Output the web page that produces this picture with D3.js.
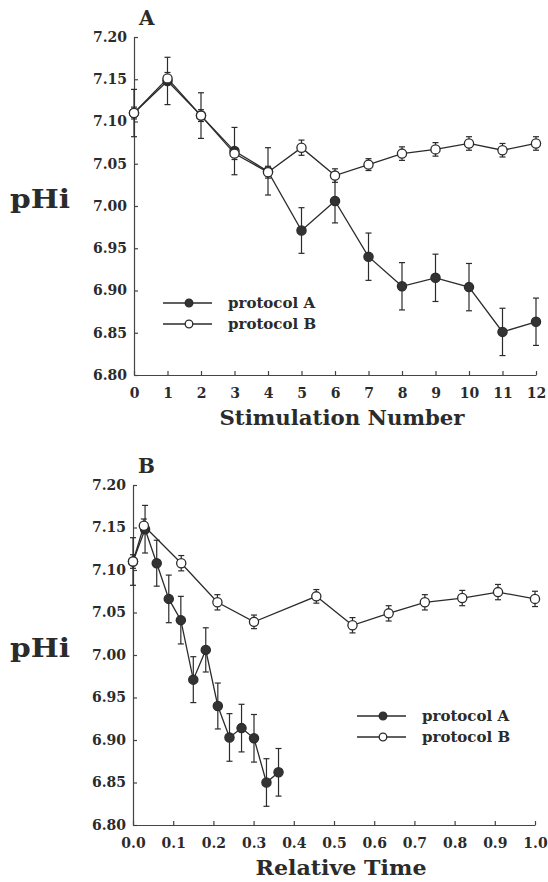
<!DOCTYPE html>
<html>
<head>
<meta charset="utf-8">
<script src="https://cdn.jsdelivr.net/npm/d3@7"></script>
<style>
  body { margin: 0; background: #fff; }
  text { font-family: "DejaVu Serif", serif; font-weight: bold; fill: #2b2b2b; }
</style>
</head>
<body>
<svg width="548" height="882"></svg>
<script>
// panel A: pHi vs stimulation number
const stimNumber = [0, 1, 2, 3, 4, 5, 6, 7, 8, 9, 10, 11, 12];
const stimPhA = [7.110, 7.148, 7.107, 7.065, 7.041, 6.971, 7.006, 6.940, 6.905, 6.915, 6.904, 6.851, 6.863];
const stimErrA = [0.028, 0.028, 0.027, 0.028, 0.028, 0.027, 0.026, 0.028, 0.028, 0.028, 0.028, 0.028, 0.028];
const stimPhB = [7.110, 7.151, 7.107, 7.062, 7.040, 7.069, 7.036, 7.049, 7.062, 7.067, 7.074, 7.066, 7.074];
const stimErrB = [0.007, 0.007, 0.007, 0.007, 0.007, 0.009, 0.008, 0.007, 0.008, 0.008, 0.008, 0.008, 0.008];
const stimTicks = [0, 1, 2, 3, 4, 5, 6, 7, 8, 9, 10, 11, 12];

// panel B: pHi vs relative time
const relTimeA = [0, 0.030, 0.059, 0.089, 0.119, 0.150, 0.181, 0.211, 0.240, 0.270, 0.301, 0.332, 0.362];
const relPhA = [7.110, 7.148, 7.108, 7.066, 7.041, 6.971, 7.006, 6.940, 6.903, 6.914, 6.902, 6.850, 6.862];
const relErrA = [0.028, 0.028, 0.027, 0.028, 0.028, 0.027, 0.026, 0.027, 0.028, 0.028, 0.028, 0.028, 0.028];
const relTimeB = [0, 0.027, 0.120, 0.210, 0.301, 0.456, 0.546, 0.636, 0.726, 0.819, 0.908, 1.0];
const relPhB = [7.110, 7.152, 7.108, 7.062, 7.039, 7.069, 7.035, 7.049, 7.062, 7.067, 7.074, 7.066];
const relErrB = [0.008, 0.008, 0.009, 0.009, 0.008, 0.008, 0.009, 0.009, 0.009, 0.009, 0.009, 0.009];
const relTicks = [0, 0.1, 0.2, 0.3, 0.4, 0.5, 0.6, 0.7, 0.8, 0.9, 1.0];

const phTicks = [6.80, 6.85, 6.90, 6.95, 7.00, 7.05, 7.10, 7.15, 7.20];
const seriesNames = ['protocol A', 'protocol B'];

const svg = d3.select('svg');
const ink = '#2b2b2b';

const zip = (xs, ys, es) => xs.map((x, i) => ({x: x, y: ys[i], e: es[i]}));

const drawPanel = p => {
  const x = d3.scaleLinear().domain(p.xDomain).range([p.left, p.right]);
  const y = d3.scaleLinear().domain([6.80, 7.20]).range([p.bottom, p.top]);
  const g = svg.append('g');

  const yAxis = g.append('g')
    .attr('transform', `translate(${p.left},0)`)
    .call(d3.axisLeft(y).tickValues(phTicks).tickFormat(d3.format('.2f'))
      .tickSize(-4).tickSizeOuter(0).tickPadding(7));
  const xAxis = g.append('g')
    .attr('transform', `translate(0,${p.bottom})`)
    .call(d3.axisBottom(x).tickValues(p.xTicks).tickFormat(p.xFormat)
      .tickSize(-4).tickSizeOuter(0).tickPadding(13));
  [yAxis, xAxis].forEach(a => {
    a.selectAll('path, line').attr('stroke', '#444').attr('stroke-width', 1.2);
    a.selectAll('text').attr('font-size', 14).attr('fill', ink);
  });

  const line = d3.line().x(d => x(d.x)).y(d => y(d.y));

  p.series.forEach((s, k) => {
    const pts = zip(s.xs, s.ys, s.es);
    const sg = g.append('g');
    sg.append('path').datum(pts)
      .attr('d', line).attr('fill', 'none')
      .attr('stroke', ink).attr('stroke-width', 1.3);
    const eb = sg.selectAll('g.eb').data(pts).enter().append('g');
    eb.append('line')
      .attr('x1', d => x(d.x)).attr('x2', d => x(d.x))
      .attr('y1', d => y(d.y + d.e)).attr('y2', d => y(d.y - d.e));
    eb.append('line')
      .attr('x1', d => x(d.x) - 3).attr('x2', d => x(d.x) + 3)
      .attr('y1', d => y(d.y + d.e)).attr('y2', d => y(d.y + d.e));
    eb.append('line')
      .attr('x1', d => x(d.x) - 3).attr('x2', d => x(d.x) + 3)
      .attr('y1', d => y(d.y - d.e)).attr('y2', d => y(d.y - d.e));
    eb.selectAll('line').attr('stroke', ink).attr('stroke-width', 1.2);
    sg.selectAll('circle').data(pts).enter().append('circle')
      .attr('cx', d => x(d.x)).attr('cy', d => y(d.y)).attr('r', 4.6)
      .attr('fill', k === 0 ? '#333' : '#fff')
      .attr('stroke', ink).attr('stroke-width', 1.3);
  });

  // legend
  seriesNames.forEach((name, k) => {
    const ly = p.legY + k * 21;
    g.append('line')
      .attr('x1', p.legX).attr('x2', p.legX + 49)
      .attr('y1', ly).attr('y2', ly)
      .attr('stroke', ink).attr('stroke-width', 1.3);
    g.append('circle')
      .attr('cx', p.legX + 26).attr('cy', ly).attr('r', 3.8)
      .attr('fill', k === 0 ? '#333' : '#fff')
      .attr('stroke', ink).attr('stroke-width', 1.3);
    g.append('text')
      .attr('x', p.legX + 65).attr('y', ly + 5)
      .attr('font-size', 15)
      .text(name);
  });

  g.append('text')
    .attr('x', p.left + 5).attr('y', p.top - 12)
    .attr('font-size', 20)
    .text(p.letter);
  g.append('text')
    .attr('x', 10).attr('y', y(7.0) + 2)
    .attr('font-size', 26)
    .attr('textLength', 60).attr('lengthAdjust', 'spacingAndGlyphs')
    .text('pHi');
  g.append('text')
    .attr('x', p.titleX).attr('y', p.bottom + 50)
    .attr('text-anchor', 'middle')
    .attr('font-size', 20)
    .attr('textLength', p.titleLen).attr('lengthAdjust', 'spacingAndGlyphs')
    .text(p.title);
};

drawPanel({
  letter: 'A', left: 134, right: 536, top: 37, bottom: 375,
  xDomain: [0, 12], xTicks: stimTicks, xFormat: d3.format('d'),
  series: [
    {xs: stimNumber, ys: stimPhA, es: stimErrA},
    {xs: stimNumber, ys: stimPhB, es: stimErrB}
  ],
  legX: 163, legY: 303,
  title: 'Stimulation Number', titleX: 342, titleLen: 245
});

drawPanel({
  letter: 'B', left: 133, right: 535, top: 485, bottom: 825,
  xDomain: [0, 1], xTicks: relTicks, xFormat: d3.format('.1f'),
  series: [
    {xs: relTimeA, ys: relPhA, es: relErrA},
    {xs: relTimeB, ys: relPhB, es: relErrB}
  ],
  legX: 357, legY: 716,
  title: 'Relative Time', titleX: 341, titleLen: 171
});
</script>
</body>
</html>
